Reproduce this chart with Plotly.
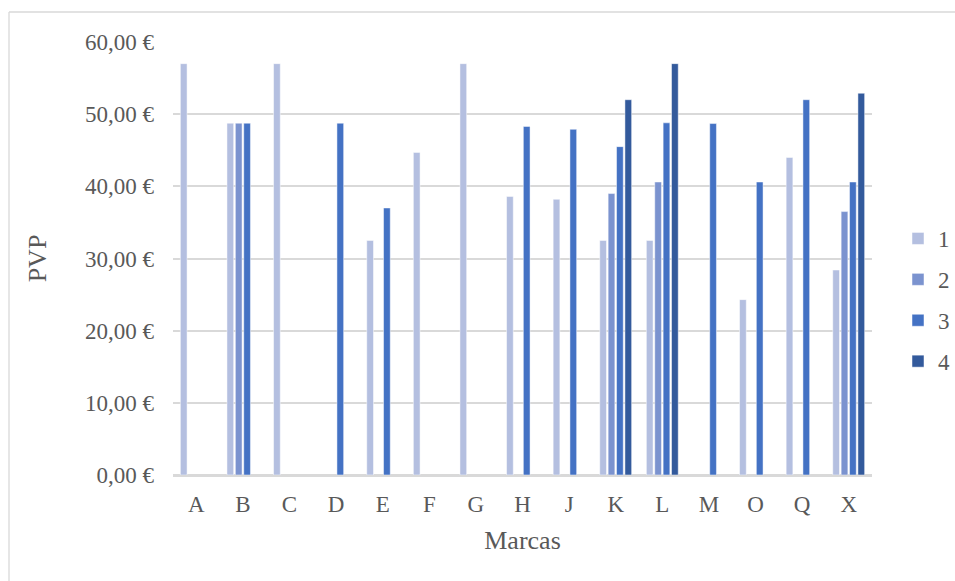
import plotly.graph_objects as go

categories = ["A", "B", "C", "D", "E", "F", "G", "H", "J", "K", "L", "M", "O", "Q", "X"]
series_names = ["1", "2", "3", "4"]
s1 = [57.0, 48.75, 57.0, None, 32.5, 44.7, 57.0, 38.6, 38.2, 32.5, 32.5, None, 24.3, 44.0, 28.4]
s2 = [None, 48.75, None, None, None, None, None, None, None, 39.0, 40.6, None, None, None, 36.5]
s3 = [None, 48.75, None, 48.75, 37.0, None, None, 48.3, 47.9, 45.5, 48.8, 48.7, 40.6, 52.0, 40.6]
s4 = [None, None, None, None, None, None, None, None, None, 52.0, 57.0, None, None, None, 52.9]
colors = ["#b4bfe0", "#7b93cf", "#4472c4", "#335a9c"]

W, H = 955, 581
L, R, T, B = 173, 872, 42, 475

fig = go.Figure()
for name, vals, c in zip(series_names, [s1, s2, s3, s4], colors):
    fig.add_trace(go.Bar(
        x=categories, y=vals, name=name, legendgroup="g" + name,
        marker=dict(color=c, line=dict(color="rgba(255,255,255,0.6)", width=0.8)),
    ))

font_family = "Liberation Serif, Times New Roman, serif"
grey = "#595959"

fig.update_layout(
    width=W, height=H,
    margin=dict(l=L, r=W - R, t=T, b=H - B),
    paper_bgcolor="white", plot_bgcolor="white",
    barmode="group", bargap=0.28, bargroupgap=0.2,
    separators=",.",
    font=dict(family=font_family, color=grey, size=23),
    showlegend=True,
    legend=dict(
        xref="container", yref="container",
        x=898 / W, y=1 - 300 / H, xanchor="left", yanchor="middle",
        font=dict(family=font_family, size=23, color=grey),
        tracegroupgap=8, itemwidth=30,
        bgcolor="rgba(0,0,0,0)",
    ),
    xaxis=dict(
        type="category", categoryorder="array", categoryarray=categories,
        showgrid=False, showline=True, linecolor="#d9d9d9", linewidth=1.5,
        ticks="", ticklabelstandoff=8,
        tickfont=dict(family=font_family, size=23, color=grey),
        title=dict(text="Marcas", font=dict(family=font_family, size=26, color=grey), standoff=14),
    ),
    yaxis=dict(
        range=[0, 60], dtick=10, tickformat=".2f", ticksuffix=" €",
        showgrid=True, gridcolor="#d9d9d9", gridwidth=1.5,
        zeroline=True, zerolinecolor="#d9d9d9", zerolinewidth=1.5,
        showline=False, ticks="", ticklabelstandoff=18,
        tickfont=dict(family=font_family, size=23, color=grey),
        title=dict(text="PVP", font=dict(family=font_family, size=26, color=grey), standoff=30),
    ),
)

pw, ph = R - L, B - T
border = dict(color="#d9d9d9", width=1.3)
fig.add_shape(type="line", xref="paper", yref="paper",
              x0=(9 - L) / pw, x1=(W - L) / pw, y0=(B - 12) / ph, y1=(B - 12) / ph,
              line=border, layer="below")
fig.add_shape(type="line", xref="paper", yref="paper",
              x0=(9 - L) / pw, x1=(9 - L) / pw, y0=(B - H) / ph, y1=(B - 12) / ph,
              line=border, layer="below")

fig.write_html("out.html")
